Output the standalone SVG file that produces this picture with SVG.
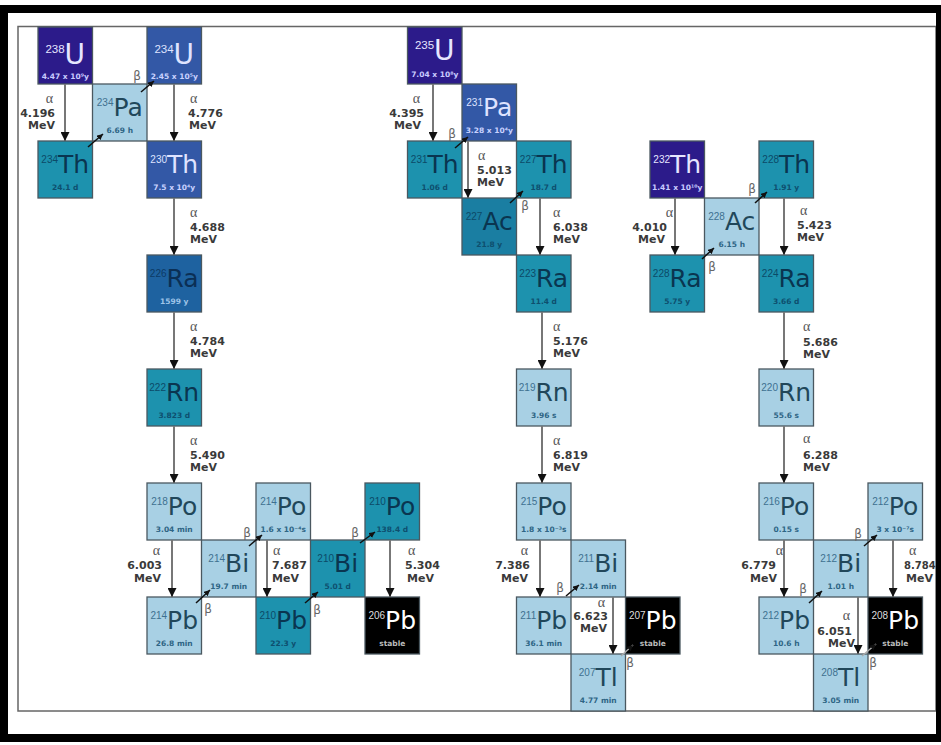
<svg xmlns="http://www.w3.org/2000/svg" width="941" height="745" viewBox="0 0 941 745">
<style>
.n rect{stroke:#4a5860;stroke-width:1.3}
.s{font-family:"DejaVu Sans",sans-serif;font-size:25px;text-anchor:middle}
.s .m{font-family:"Liberation Sans",sans-serif;font-size:10px}
.s.u{font-size:28px}
.s.u .m{font-size:11.5px}
.h{font-family:"DejaVu Sans",sans-serif;font-weight:bold;font-size:7.5px;text-anchor:middle}
.lt rect{fill:#a8d0e4}.lt .s{fill:#21475a}.lt .m{fill:#3e7090}.lt .h{fill:#2e6585}
.tl rect{fill:#1d92ae}.tl .s{fill:#0a3550}.tl .m{fill:#0c4a68}.tl .h{fill:#0e4f6e}
.tl2 rect{fill:#1a7ea2}.tl2 .s{fill:#0a3550}.tl2 .m{fill:#0c4a68}.tl2 .h{fill:#0e4f6e}
.rb rect{fill:#1e62a0}.rb .s{fill:#0b2f55}.rb .m{fill:#0c3a66}.rb .h{fill:#9fc4e8}
.bl rect{fill:#3358a6}.bl .s,.bl .m{fill:#dfe3ff}.bl .h{fill:#c9d2ff}
.in rect{fill:#2c1b8a}.in .s,.in .m{fill:#e6e6ff}.in .h{fill:#c9ccff}
.bk rect{fill:#000}.bk .s{fill:#fff}.bk .m{fill:#ddd}.bk .h{fill:#bbb}
.al{stroke:#777;stroke-width:2;fill:none;marker-end:url(#ah)}
.be{stroke:#111;stroke-width:1.5;fill:none;marker-end:url(#bh)}
.be.w{stroke:#aaa}
.a{font-family:"Liberation Serif",serif;font-size:14px;fill:#555}
.v{font-family:"DejaVu Sans",sans-serif;font-weight:bold;font-size:11px;fill:#3a3a3a}
.e{text-anchor:end}
.bt{font-family:"DejaVu Sans",sans-serif;font-size:12px;fill:#666;text-anchor:middle}
</style>
<defs>
<marker id="ah" viewBox="0 0 10 10" refX="10" refY="5" markerWidth="9" markerHeight="9" markerUnits="userSpaceOnUse" orient="auto"><path d="M0,0 L10,5 L0,10 z" fill="#111"/></marker>
<marker id="bh" viewBox="0 0 10 10" refX="10" refY="5" markerWidth="6" markerHeight="6" markerUnits="userSpaceOnUse" orient="auto"><path d="M0,0 L10,5 L0,10 z" fill="#111"/></marker>
</defs>
<rect x="0" y="0" width="941" height="745" fill="#fff"/>
<rect x="18" y="26.5" width="918" height="684.5" fill="none" stroke="#666" stroke-width="1.5"/>
<g id="frame" fill="#000">
<rect x="0" y="5" width="941" height="8"/>
<rect x="0" y="5" width="8" height="737"/>
<rect x="936" y="5" width="5" height="737"/>
<rect x="0" y="734" width="941" height="8"/>
</g>

<g id="nodes">
<!-- U-238 chain -->
<g id="n-238U" class="n in" transform="translate(38,27)"><rect width="54.5" height="57"/><text class="s u" x="27.25" y="37"><tspan class="m" dy="-11">238</tspan><tspan dy="11">U</tspan></text><text class="h" x="27.25" y="52">4.47 x 10⁹y</text></g>
<g id="n-234Pa" class="n lt" transform="translate(92.5,84)"><rect width="54.5" height="57"/><text class="s" x="27.25" y="32"><tspan class="m" dy="-10">234</tspan><tspan dy="10">Pa</tspan></text><text class="h" x="27.25" y="49">6.69 h</text></g>
<g id="n-234U" class="n bl" transform="translate(147,27)"><rect width="54.5" height="57"/><text class="s u" x="27.25" y="37"><tspan class="m" dy="-11">234</tspan><tspan dy="11">U</tspan></text><text class="h" x="27.25" y="52">2.45 x 10⁵y</text></g>
<g id="n-234Th" class="n tl" transform="translate(38,141)"><rect width="54.5" height="57"/><text class="s" x="27.25" y="32"><tspan class="m" dy="-10">234</tspan><tspan dy="10">Th</tspan></text><text class="h" x="27.25" y="49">24.1 d</text></g>
<g id="n-230Th" class="n bl" transform="translate(147,141)"><rect width="54.5" height="57"/><text class="s" x="27.25" y="32"><tspan class="m" dy="-10">230</tspan><tspan dy="10">Th</tspan></text><text class="h" x="27.25" y="49">7.5 x 10⁴y</text></g>
<g id="n-226Ra" class="n rb" transform="translate(147,255)"><rect width="54.5" height="57"/><text class="s" x="27.25" y="32"><tspan class="m" dy="-10">226</tspan><tspan dy="10">Ra</tspan></text><text class="h" x="27.25" y="49">1599 y</text></g>
<g id="n-222Rn" class="n tl" transform="translate(147,369)"><rect width="54.5" height="57"/><text class="s" x="27.25" y="32"><tspan class="m" dy="-10">222</tspan><tspan dy="10">Rn</tspan></text><text class="h" x="27.25" y="49">3.823 d</text></g>
<g id="n-218Po" class="n lt" transform="translate(147,483)"><rect width="54.5" height="57"/><text class="s" x="27.25" y="32"><tspan class="m" dy="-10">218</tspan><tspan dy="10">Po</tspan></text><text class="h" x="27.25" y="49">3.04 min</text></g>
<g id="n-214Bi" class="n lt" transform="translate(201.5,540)"><rect width="54.5" height="57"/><text class="s" x="27.25" y="32"><tspan class="m" dy="-10">214</tspan><tspan dy="10">Bi</tspan></text><text class="h" x="27.25" y="49">19.7 min</text></g>
<g id="n-214Po" class="n lt" transform="translate(256,483)"><rect width="54.5" height="57"/><text class="s" x="27.25" y="32"><tspan class="m" dy="-10">214</tspan><tspan dy="10">Po</tspan></text><text class="h" x="27.25" y="49">1.6 x 10⁻⁴s</text></g>
<g id="n-214Pb" class="n lt" transform="translate(147,597)"><rect width="54.5" height="57"/><text class="s" x="27.25" y="32"><tspan class="m" dy="-10">214</tspan><tspan dy="10">Pb</tspan></text><text class="h" x="27.25" y="49">26.8 min</text></g>
<g id="n-210Pb" class="n tl" transform="translate(256,597)"><rect width="54.5" height="57"/><text class="s" x="27.25" y="32"><tspan class="m" dy="-10">210</tspan><tspan dy="10">Pb</tspan></text><text class="h" x="27.25" y="49">22.3 y</text></g>
<g id="n-210Bi" class="n tl" transform="translate(310.5,540)"><rect width="54.5" height="57"/><text class="s" x="27.25" y="32"><tspan class="m" dy="-10">210</tspan><tspan dy="10">Bi</tspan></text><text class="h" x="27.25" y="49">5.01 d</text></g>
<g id="n-210Po" class="n tl" transform="translate(365,483)"><rect width="54.5" height="57"/><text class="s" x="27.25" y="32"><tspan class="m" dy="-10">210</tspan><tspan dy="10">Po</tspan></text><text class="h" x="27.25" y="49">138.4 d</text></g>
<g id="n-206Pb" class="n bk" transform="translate(365,597)"><rect width="54.5" height="57"/><text class="s" x="27.25" y="32"><tspan class="m" dy="-10">206</tspan><tspan dy="10">Pb</tspan></text><text class="h" x="27.25" y="49">stable</text></g>
<!-- U-235 chain -->
<g id="n-235U" class="n in" transform="translate(407.5,27)"><rect width="54.5" height="57"/><text class="s u" x="27.25" y="33"><tspan class="m" dy="-11">235</tspan><tspan dy="11">U</tspan></text><text class="h" x="27.25" y="50">7.04 x 10⁸y</text></g>
<g id="n-231Pa" class="n bl" transform="translate(462,84)"><rect width="54.5" height="57"/><text class="s" x="27.25" y="32"><tspan class="m" dy="-10">231</tspan><tspan dy="10">Pa</tspan></text><text class="h" x="27.25" y="49">3.28 x 10⁴y</text></g>
<g id="n-231Th" class="n tl" transform="translate(407.5,141)"><rect width="54.5" height="57"/><text class="s" x="27.25" y="32"><tspan class="m" dy="-10">231</tspan><tspan dy="10">Th</tspan></text><text class="h" x="27.25" y="49">1.06 d</text></g>
<g id="n-227Th" class="n tl" transform="translate(516.5,141)"><rect width="54.5" height="57"/><text class="s" x="27.25" y="32"><tspan class="m" dy="-10">227</tspan><tspan dy="10">Th</tspan></text><text class="h" x="27.25" y="49">18.7 d</text></g>
<g id="n-227Ac" class="n tl2" transform="translate(462,198)"><rect width="54.5" height="57"/><text class="s" x="27.25" y="32"><tspan class="m" dy="-10">227</tspan><tspan dy="10">Ac</tspan></text><text class="h" x="27.25" y="49">21.8 y</text></g>
<g id="n-223Ra" class="n tl" transform="translate(516.5,255)"><rect width="54.5" height="57"/><text class="s" x="27.25" y="32"><tspan class="m" dy="-10">223</tspan><tspan dy="10">Ra</tspan></text><text class="h" x="27.25" y="49">11.4 d</text></g>
<g id="n-219Rn" class="n lt" transform="translate(516.5,369)"><rect width="54.5" height="57"/><text class="s" x="27.25" y="32"><tspan class="m" dy="-10">219</tspan><tspan dy="10">Rn</tspan></text><text class="h" x="27.25" y="49">3.96 s</text></g>
<g id="n-215Po" class="n lt" transform="translate(516.5,483)"><rect width="54.5" height="57"/><text class="s" x="27.25" y="32"><tspan class="m" dy="-10">215</tspan><tspan dy="10">Po</tspan></text><text class="h" x="27.25" y="49">1.8 x 10⁻³s</text></g>
<g id="n-211Bi" class="n lt" transform="translate(571,540)"><rect width="54.5" height="57"/><text class="s" x="27.25" y="32"><tspan class="m" dy="-10">211</tspan><tspan dy="10">Bi</tspan></text><text class="h" x="27.25" y="49">2.14 min</text></g>
<g id="n-211Pb" class="n lt" transform="translate(516.5,597)"><rect width="54.5" height="57"/><text class="s" x="27.25" y="32"><tspan class="m" dy="-10">211</tspan><tspan dy="10">Pb</tspan></text><text class="h" x="27.25" y="49">36.1 min</text></g>
<g id="n-207Pb" class="n bk" transform="translate(625.5,597)"><rect width="54.5" height="57"/><text class="s" x="27.25" y="32"><tspan class="m" dy="-10">207</tspan><tspan dy="10">Pb</tspan></text><text class="h" x="27.25" y="49">stable</text></g>
<g id="n-207Tl" class="n lt" transform="translate(571,654)"><rect width="54.5" height="57"/><text class="s" x="27.25" y="32"><tspan class="m" dy="-10">207</tspan><tspan dy="10">Tl</tspan></text><text class="h" x="27.25" y="49">4.77 min</text></g>
<!-- Th-232 chain -->
<g id="n-232Th" class="n in" transform="translate(650,141)"><rect width="54.5" height="57"/><text class="s" x="27.25" y="32"><tspan class="m" dy="-10">232</tspan><tspan dy="10">Th</tspan></text><text class="h" x="27.25" y="49">1.41 x 10¹⁰y</text></g>
<g id="n-228Ac" class="n lt" transform="translate(704.5,198)"><rect width="54.5" height="57"/><text class="s" x="27.25" y="32"><tspan class="m" dy="-10">228</tspan><tspan dy="10">Ac</tspan></text><text class="h" x="27.25" y="49">6.15 h</text></g>
<g id="n-228Th" class="n tl" transform="translate(759,141)"><rect width="54.5" height="57"/><text class="s" x="27.25" y="32"><tspan class="m" dy="-10">228</tspan><tspan dy="10">Th</tspan></text><text class="h" x="27.25" y="49">1.91 y</text></g>
<g id="n-228Ra" class="n tl" transform="translate(650,255)"><rect width="54.5" height="57"/><text class="s" x="27.25" y="32"><tspan class="m" dy="-10">228</tspan><tspan dy="10">Ra</tspan></text><text class="h" x="27.25" y="49">5.75 y</text></g>
<g id="n-224Ra" class="n tl" transform="translate(759,255)"><rect width="54.5" height="57"/><text class="s" x="27.25" y="32"><tspan class="m" dy="-10">224</tspan><tspan dy="10">Ra</tspan></text><text class="h" x="27.25" y="49">3.66 d</text></g>
<g id="n-220Rn" class="n lt" transform="translate(759,369)"><rect width="54.5" height="57"/><text class="s" x="27.25" y="32"><tspan class="m" dy="-10">220</tspan><tspan dy="10">Rn</tspan></text><text class="h" x="27.25" y="49">55.6 s</text></g>
<g id="n-216Po" class="n lt" transform="translate(759,483)"><rect width="54.5" height="57"/><text class="s" x="27.25" y="32"><tspan class="m" dy="-10">216</tspan><tspan dy="10">Po</tspan></text><text class="h" x="27.25" y="49">0.15 s</text></g>
<g id="n-212Bi" class="n lt" transform="translate(813.5,540)"><rect width="54.5" height="57"/><text class="s" x="27.25" y="32"><tspan class="m" dy="-10">212</tspan><tspan dy="10">Bi</tspan></text><text class="h" x="27.25" y="49">1.01 h</text></g>
<g id="n-212Po" class="n lt" transform="translate(868,483)"><rect width="54.5" height="57"/><text class="s" x="27.25" y="32"><tspan class="m" dy="-10">212</tspan><tspan dy="10">Po</tspan></text><text class="h" x="27.25" y="49">3 x 10⁻⁷s</text></g>
<g id="n-212Pb" class="n lt" transform="translate(759,597)"><rect width="54.5" height="57"/><text class="s" x="27.25" y="32"><tspan class="m" dy="-10">212</tspan><tspan dy="10">Pb</tspan></text><text class="h" x="27.25" y="49">10.6 h</text></g>
<g id="n-208Pb" class="n bk" transform="translate(868,597)"><rect width="54.5" height="57"/><text class="s" x="27.25" y="32"><tspan class="m" dy="-10">208</tspan><tspan dy="10">Pb</tspan></text><text class="h" x="27.25" y="49">stable</text></g>
<g id="n-208Tl" class="n lt" transform="translate(813.5,654)"><rect width="54.5" height="57"/><text class="s" x="27.25" y="32"><tspan class="m" dy="-10">208</tspan><tspan dy="10">Tl</tspan></text><text class="h" x="27.25" y="49">3.05 min</text></g>
</g>

<g id="connectors">
<!-- alpha decays -->
<line class="al" x1="65" y1="84" x2="65" y2="141"/>
<line class="al" x1="174" y1="84" x2="174" y2="141"/>
<line class="al" x1="174" y1="198" x2="174" y2="255"/>
<line class="al" x1="174" y1="312" x2="174" y2="369"/>
<line class="al" x1="174" y1="426" x2="174" y2="483"/>
<line class="al" x1="172" y1="540" x2="172" y2="597"/>
<line class="al" x1="267" y1="540" x2="267" y2="597"/>
<line class="al" x1="390" y1="540" x2="390" y2="597"/>
<line class="al" x1="433" y1="84" x2="433" y2="141"/>
<line class="al" x1="468" y1="141" x2="468" y2="198"/>
<line class="al" x1="540" y1="198" x2="540" y2="255"/>
<line class="al" x1="542" y1="312" x2="542" y2="369"/>
<line class="al" x1="542" y1="426" x2="542" y2="483"/>
<line class="al" x1="540" y1="540" x2="540" y2="597"/>
<line class="al" x1="613" y1="597" x2="613" y2="654"/>
<line class="al" x1="675" y1="198" x2="675" y2="255"/>
<line class="al" x1="784" y1="198" x2="784" y2="255"/>
<line class="al" x1="784" y1="312" x2="784" y2="369"/>
<line class="al" x1="784" y1="426" x2="784" y2="483"/>
<line class="al" x1="784" y1="540" x2="784" y2="597"/>
<line class="al" x1="893" y1="540" x2="893" y2="597"/>
<line class="al" x1="858" y1="597" x2="858" y2="654"/>
<!-- beta decays -->
<line class="be" x1="88" y1="147" x2="103" y2="134"/>
<line class="be" x1="141" y1="92" x2="154" y2="81"/>
<line class="be" x1="196" y1="603" x2="210" y2="590"/>
<line class="be" x1="249" y1="546" x2="262" y2="535"/>
<line class="be" x1="305" y1="603" x2="318" y2="592"/>
<line class="be" x1="360" y1="543" x2="375" y2="532"/>
<line class="be" x1="455" y1="148" x2="468" y2="137"/>
<line class="be" x1="510" y1="203" x2="523" y2="191"/>
<line class="be" x1="566" y1="596" x2="579" y2="585"/>
<line class="be w" x1="621" y1="656" x2="633" y2="645"/>
<line class="be" x1="702" y1="259" x2="714" y2="248"/>
<line class="be" x1="755" y1="203" x2="767" y2="192"/>
<line class="be" x1="809" y1="603" x2="822" y2="591"/>
<line class="be" x1="864" y1="546" x2="877" y2="535"/>
<line class="be w" x1="862" y1="656" x2="876" y2="644"/>
</g>

<g id="labels">
<text class="a e" x="53" y="103">α</text><text class="v e" x="55" y="117">4.196</text><text class="v e" x="55" y="129">MeV</text>
<text class="a" x="190" y="103">α</text><text class="v" x="188" y="117">4.776</text><text class="v" x="189" y="129">MeV</text>
<text class="a" x="190" y="217">α</text><text class="v" x="190" y="231">4.688</text><text class="v" x="190" y="243">MeV</text>
<text class="a" x="190" y="331">α</text><text class="v" x="190" y="345">4.784</text><text class="v" x="190" y="357">MeV</text>
<text class="a" x="190" y="445">α</text><text class="v" x="190" y="459">5.490</text><text class="v" x="190" y="471">MeV</text>
<text class="a e" x="160" y="555">α</text><text class="v e" x="162" y="569">6.003</text><text class="v e" x="161" y="582">MeV</text>
<text class="a" x="273" y="555">α</text><text class="v" x="272" y="569">7.687</text><text class="v" x="272" y="582">MeV</text>
<text class="a" x="408" y="555">α</text><text class="v" x="405" y="569">5.304</text><text class="v" x="407" y="582">MeV</text>
<text class="a e" x="420" y="103">α</text><text class="v e" x="424" y="117">4.395</text><text class="v e" x="421" y="129">MeV</text>
<text class="a" x="478" y="160">α</text><text class="v" x="477" y="174">5.013</text><text class="v" x="477" y="186">MeV</text>
<text class="a" x="553" y="217">α</text><text class="v" x="553" y="231">6.038</text><text class="v" x="553" y="243">MeV</text>
<text class="a" x="553" y="331">α</text><text class="v" x="553" y="345">5.176</text><text class="v" x="553" y="357">MeV</text>
<text class="a" x="553" y="445">α</text><text class="v" x="553" y="459">6.819</text><text class="v" x="553" y="471">MeV</text>
<text class="a e" x="528" y="555">α</text><text class="v e" x="530" y="569">7.386</text><text class="v e" x="528" y="582">MeV</text>
<text class="a e" x="605" y="607">α</text><text class="v e" x="608" y="620">6.623</text><text class="v e" x="607" y="632">MeV</text>
<text class="a e" x="673" y="217">α</text><text class="v e" x="667" y="231">4.010</text><text class="v e" x="665" y="243">MeV</text>
<text class="a" x="800" y="215">α</text><text class="v" x="797" y="229">5.423</text><text class="v" x="797" y="241">MeV</text>
<text class="a" x="803" y="331">α</text><text class="v" x="803" y="346">5.686</text><text class="v" x="803" y="358">MeV</text>
<text class="a" x="803" y="443">α</text><text class="v" x="803" y="459">6.288</text><text class="v" x="803" y="471">MeV</text>
<text class="a e" x="783" y="555">α</text><text class="v e" x="776" y="569">6.779</text><text class="v e" x="777" y="582">MeV</text>
<text class="a" x="909" y="555">α</text><text class="v" x="904" y="569" style="font-size:10px">8.784</text><text class="v" x="906" y="582">MeV</text>
<text class="a e" x="850" y="620">α</text><text class="v e" x="852" y="635">6.051</text><text class="v e" x="855" y="647">MeV</text>
<text class="bt" x="137" y="80">β</text>
<text class="bt" x="208" y="613">β</text>
<text class="bt" x="247" y="537">β</text>
<text class="bt" x="317" y="614">β</text>
<text class="bt" x="355" y="537">β</text>
<text class="bt" x="452" y="138">β</text>
<text class="bt" x="525" y="210">β</text>
<text class="bt" x="560" y="592">β</text>
<text class="bt" x="630" y="667">β</text>
<text class="bt" x="712" y="271">β</text>
<text class="bt" x="752" y="193">β</text>
<text class="bt" x="803" y="593">β</text>
<text class="bt" x="858" y="538">β</text>
<text class="bt" x="873" y="667">β</text>
</g>
</svg>
